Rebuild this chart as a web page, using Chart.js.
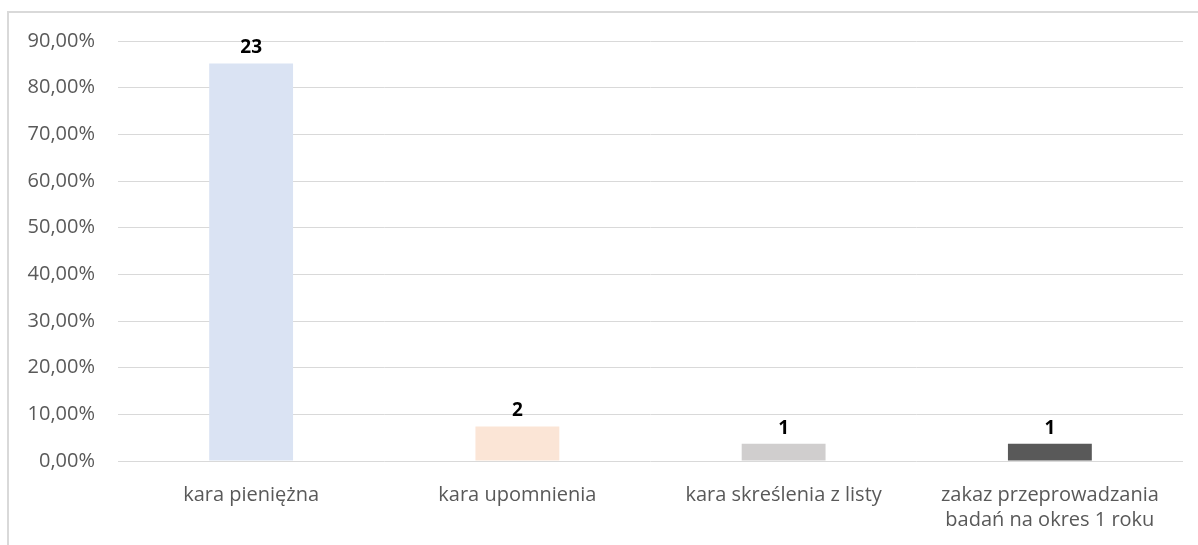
<!DOCTYPE html>
<html>
<head>
<meta charset="utf-8">
<script src="https://cdn.jsdelivr.net/npm/chart.js@4"></script>
<style>
    html, body { margin: 0; padding: 0; background: #fff; }
    #wrap { position: relative; width: 1198px; height: 545px; overflow: hidden; }
    #frame { position: absolute; left: 7px; top: 11px; width: 1300px; height: 600px;
             border-top: 2px solid #d9d9d9; border-left: 2px solid #d9d9d9; }
    canvas { position: absolute; left: 0; top: 0; }
</style>
</head>
<body>
<div id="wrap">
    <div id="frame"></div>
    <canvas id="chart" width="1198" height="545"></canvas>
</div>
<script>
const categories = ['kara pieniężna', 'kara upomnienia', 'kara skreślenia z listy', ['zakaz przeprowadzania', 'badań na okres 1 roku']];
const shares = [85.19, 7.41, 3.70, 3.70];
const counts = [23, 2, 1, 1];
const barColors = ['#dae3f3', '#fbe5d6', '#d0cece', '#595959'];

const fontFamily = '"Open Sans", sans-serif';

// draws the count above each bar
const countLabels = {
    id: 'countLabels',
    afterDatasetsDraw(chart) {
        const ctx = chart.ctx;
        const meta = chart.getDatasetMeta(0);
        ctx.save();
        ctx.font = 'bold 19px ' + fontFamily;
        ctx.fillStyle = '#000';
        ctx.textAlign = 'center';
        ctx.textBaseline = 'bottom';
        meta.data.forEach(function(bar, i) {
            ctx.fillText(counts[i], bar.x, bar.y - 6);
        });
        ctx.restore();
    }
};

const ctx = document.querySelector('#chart').getContext('2d');
const chart = new Chart(ctx, {
    type: 'bar',
    data: {
        labels: categories,
        datasets: [{
            data: shares,
            backgroundColor: barColors,
            categoryPercentage: 1,
            barPercentage: 0.315
        }]
    },
    options: {
        responsive: false,
        animation: false,
        layout: { padding: { top: 41, right: 15, left: 0, bottom: 0 } },
        plugins: {
            legend: { display: false },
            tooltip: { enabled: false }
        },
        scales: {
            x: {
                grid: { display: false },
                border: { display: false },
                ticks: {
                    color: '#595959',
                    font: { family: fontFamily, size: 20, lineHeight: 1.25 },
                    padding: 14,
                    maxRotation: 0
                },
                afterFit(scale) { scale.height = 84; }
            },
            y: {
                min: 0,
                max: 90,
                grid: { color: '#d9d9d9', lineWidth: 1, drawTicks: false },
                border: { display: false },
                ticks: {
                    stepSize: 10,
                    color: '#595959',
                    padding: 23,
                    font: { family: fontFamily, size: 20 },
                    callback: function(v) { return v.toFixed(2).replace('.', ',') + '%'; }
                },
                afterFit(scale) { scale.width = 118; }
            }
        }
    },
    plugins: [countLabels]
});
</script>
</body>
</html>
